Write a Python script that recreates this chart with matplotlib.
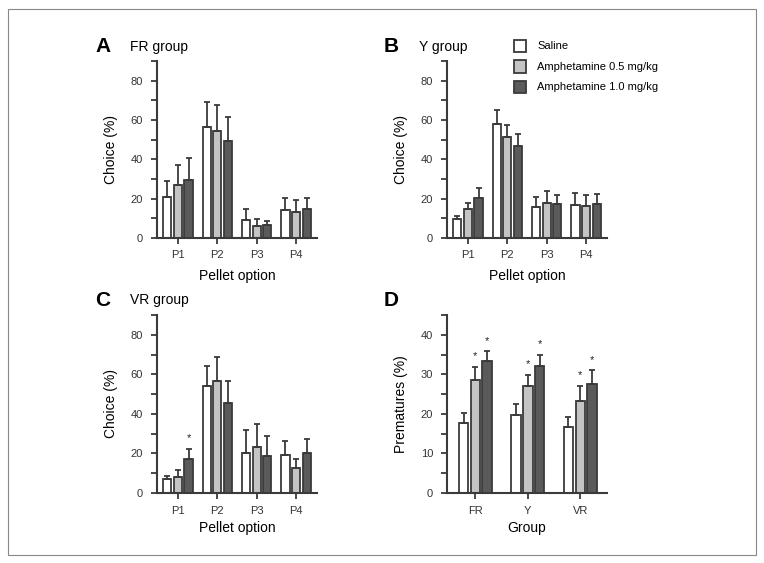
import matplotlib
matplotlib.use("Agg")
import matplotlib.pyplot as plt
from matplotlib.patches import Rectangle
import numpy as np

plt.rcParams['font.family'] = ['Liberation Sans', 'DejaVu Sans']

# data
pellets = ['P1', 'P2', 'P3', 'P4']
groups = ['FR', 'Y', 'VR']
treatments = ['Saline', 'Amphetamine 0.5 mg/kg', 'Amphetamine 1.0 mg/kg']

fr_mean = [[20.9, 56.3, 9.4, 14.3],
           [27.2, 54.3, 6.2, 13.0],
           [29.7, 49.5, 6.6, 15.0]]
fr_err = [[8.3, 12.7, 5.1, 5.9],
          [9.9, 13.2, 3.5, 6.4],
          [11.2, 12.2, 2.0, 5.2]]

y_mean = [[9.7, 57.8, 16.0, 16.9],
          [14.7, 51.2, 18.0, 16.5],
          [20.2, 46.6, 17.1, 17.1]]
y_err = [[1.7, 7.3, 5.1, 6.2],
         [2.9, 6.4, 5.7, 5.2],
         [5.3, 6.2, 4.6, 5.1]]

vr_mean = [[7.0, 54.0, 20.1, 19.4],
           [8.2, 56.4, 23.1, 12.5],
           [17.4, 45.4, 18.7, 20.1]]
vr_err = [[1.8, 10.3, 11.8, 7.0],
          [3.3, 12.6, 11.9, 4.5],
          [4.8, 11.4, 9.9, 7.2]]
vr_stars = [[], [], [0]]

prem_mean = [[17.7, 19.6, 16.7],
             [28.6, 27.0, 23.3],
             [33.4, 32.2, 27.6]]
prem_err = [[2.6, 2.8, 2.5],
            [3.3, 2.9, 3.8],
            [2.4, 2.7, 3.4]]
prem_stars = [[], [0, 1, 2], [0, 1, 2]]

colors = ['white', '#c4c4c4', '#5a5a5a']
edge = '#3a3a3a'

W, H = 764, 563
fig = plt.figure(figsize=(W / 100, H / 100), dpi=100)

# outer frame
fig.patches.append(Rectangle((8 / W, 1 - 555 / H), 748 / W, 546 / H,
                             transform=fig.transFigure, fill=False,
                             edgecolor='#888888', linewidth=0.8))


def px_axes(x0, y0, x1, y1):
    return fig.add_axes([x0 / W, 1 - y1 / H, (x1 - x0) / W, (y1 - y0) / H])


def bar_panel(ax, means, errs, labels, width, step, xlim, ylim, major, minor,
              stars=None, star_off=4):
    x = np.arange(len(labels))
    for i in range(3):
        pos = x + (i - 1) * step
        m = np.array(means[i])
        e = np.array(errs[i])
        ax.bar(pos, m, width, color=colors[i], edgecolor=edge, linewidth=1.3,
               yerr=[np.zeros_like(e), e],
               error_kw=dict(ecolor=edge, elinewidth=1.3, capsize=2.5, capthick=1.3),
               zorder=2)
        if stars:
            for j in stars[i]:
                ax.annotate('*', (pos[j], m[j] + e[j]), xytext=(0, star_off),
                            textcoords='offset points', ha='center', va='bottom',
                            fontsize=8, color='#222222')
    ax.set_xlim(*xlim)
    ax.set_ylim(*ylim)
    ax.set_xticks(x)
    ax.set_xticklabels(labels, fontsize=8)
    ax.set_yticks(np.arange(0, ylim[1] + 0.1, major))
    ax.set_yticks(np.arange(0, ylim[1] + 0.1, minor), minor=True)
    ax.tick_params(axis='y', which='both', labelsize=8, length=4, width=1.3,
                   color=edge, direction='out', pad=6, labelcolor='#333333')
    ax.tick_params(axis='x', length=4, width=1.3, color=edge, pad=5,
                   labelcolor='#333333')
    for s in ['top', 'right']:
        ax.spines[s].set_visible(False)
    for s in ['left', 'bottom']:
        ax.spines[s].set_linewidth(1.5)
        ax.spines[s].set_color(edge)
    ax.patch.set_alpha(0)


axA = px_axes(157, 61, 317, 238)
bar_panel(axA, fr_mean, fr_err, pellets, 0.21, 0.27, (-0.53, 3.53), (0, 90), 20, 10)
axA.set_ylabel('Choice (%)', fontsize=10, labelpad=9)
axA.set_xlabel('Pellet option', fontsize=10, labelpad=6)

axB = px_axes(447, 61, 607, 238)
bar_panel(axB, y_mean, y_err, pellets, 0.21, 0.27, (-0.53, 3.53), (0, 90), 20, 10)
axB.set_ylabel('Choice (%)', fontsize=10, labelpad=9)
axB.set_xlabel('Pellet option', fontsize=10, labelpad=6)

axC = px_axes(157, 315, 317, 493)
bar_panel(axC, vr_mean, vr_err, pellets, 0.21, 0.27, (-0.53, 3.53), (0, 90), 20, 10,
          stars=vr_stars, star_off=4)
axC.set_ylabel('Choice (%)', fontsize=10, labelpad=9)
axC.set_xlabel('Pellet option', fontsize=10, labelpad=4)

axD = px_axes(447, 315, 607, 493)
bar_panel(axD, prem_mean, prem_err, groups, 0.18, 0.225, (-0.54, 2.51), (0, 45), 10, 5,
          stars=prem_stars, star_off=4)
axD.set_ylabel('Prematures (%)', fontsize=10, labelpad=9)
axD.set_xlabel('Group', fontsize=10, labelpad=4)

# panel letters and titles
for letter, title, lx, ly in [('A', 'FR group', 95, 47), ('B', 'Y group', 384, 47),
                              ('C', 'VR group', 95, 300), ('D', '', 384, 300)]:
    fig.text(lx / W, 1 - ly / H, letter, fontsize=15, fontweight='bold',
             ha='left', va='center')
    if title:
        fig.text((lx + 35) / W, 1 - ly / H, title, fontsize=10,
                 ha='left', va='center')

# legend
for i, lab in enumerate(treatments):
    cy = 46 + i * 20.5
    fig.patches.append(Rectangle((514 / W, 1 - (cy + 6) / H), 12 / W, 12 / H,
                                 transform=fig.transFigure, facecolor=colors[i],
                                 edgecolor=edge, linewidth=1.3))
    fig.text(537 / W, 1 - cy / H, lab, fontsize=8, ha='left', va='center')

fig.savefig('out.png', dpi=100)
